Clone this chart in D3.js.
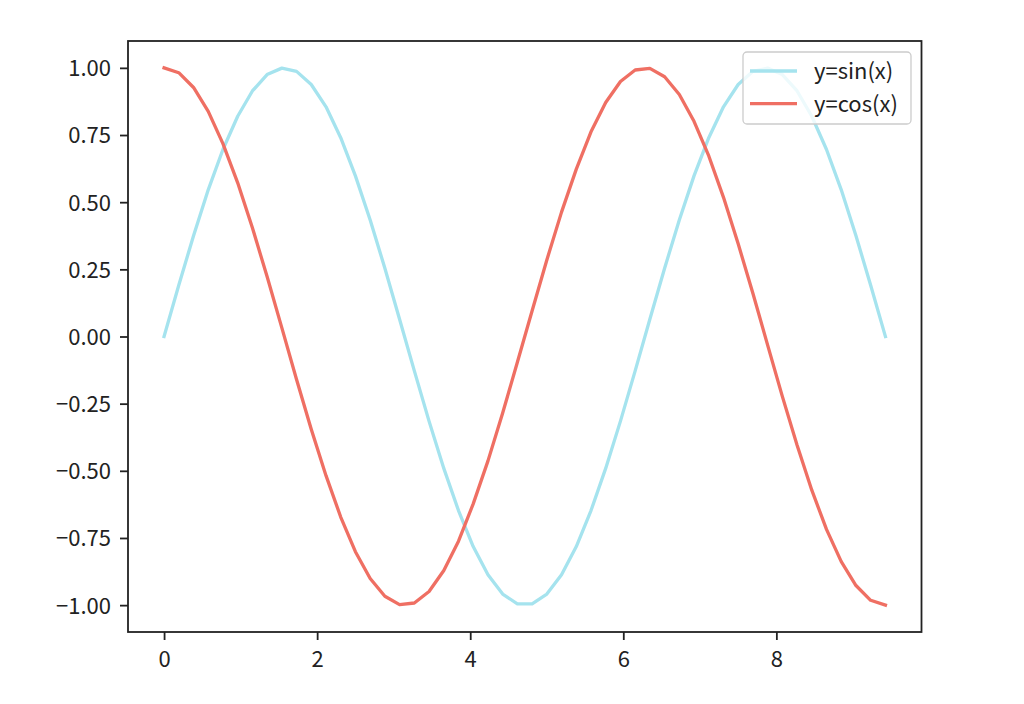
<!DOCTYPE html>
<html>
<head>
<meta charset="utf-8">
<script src="https://cdn.jsdelivr.net/npm/d3@7/dist/d3.min.js"></script>
<style>
html, body { margin: 0; padding: 0; background: #fff; }
svg { display: block; }
text { font-family: "Noto Sans CJK JP", "Noto Sans", sans-serif; }
</style>
</head>
<body>
<svg id="chart" width="1024" height="704"></svg>
<script>
const xValues = [0, 0.192, 0.385, 0.577, 0.769, 0.962, 1.154, 1.346, 1.539, 1.731, 1.923, 2.116, 2.308, 2.500, 2.693, 2.885, 3.077, 3.270, 3.462, 3.655, 3.847, 4.039, 4.232, 4.424, 4.616, 4.809, 5.001, 5.193, 5.386, 5.578, 5.770, 5.963, 6.155, 6.347, 6.540, 6.732, 6.924, 7.117, 7.309, 7.501, 7.694, 7.886, 8.078, 8.271, 8.463, 8.655, 8.848, 9.040, 9.232, 9.425];
const sinValues = [0, 0.191, 0.375, 0.546, 0.696, 0.820, 0.914, 0.975, 0.999, 0.987, 0.938, 0.855, 0.740, 0.598, 0.434, 0.254, 0.064, -0.128, -0.315, -0.491, -0.648, -0.782, -0.887, -0.959, -0.995, -0.995, -0.959, -0.887, -0.782, -0.648, -0.491, -0.315, -0.128, 0.064, 0.254, 0.434, 0.598, 0.740, 0.855, 0.938, 0.987, 0.999, 0.975, 0.914, 0.820, 0.696, 0.546, 0.375, 0.191, 0];
const cosValues = [1, 0.982, 0.927, 0.838, 0.718, 0.572, 0.405, 0.223, 0.032, -0.160, -0.345, -0.518, -0.672, -0.801, -0.901, -0.967, -0.998, -0.992, -0.949, -0.871, -0.762, -0.623, -0.463, -0.285, -0.096, 0.096, 0.285, 0.463, 0.623, 0.762, 0.871, 0.949, 0.992, 0.998, 0.967, 0.901, 0.801, 0.672, 0.518, 0.345, 0.160, -0.032, -0.223, -0.405, -0.572, -0.718, -0.838, -0.927, -0.982, -1];
const seriesNames = ["y=sin(x)", "y=cos(x)"];
const seriesColors = ["#a5e3ee", "#ef6f63"];
const xTicks = [0, 2, 4, 6, 8];
const yTicks = [-1.00, -0.75, -0.50, -0.25, 0.00, 0.25, 0.50, 0.75, 1.00];

(function () {
const svg = d3.select("#chart");
const mLeft = 128, mRight = 921.5, mTop = 41, mBottom = 632;
const fontSize = "22px";

const xMin = d3.min(xValues), xMax = d3.max(xValues);
const xPad = (xMax - xMin) * 0.05;
const x = d3.scaleLinear().domain([xMin - xPad, xMax + xPad]).range([mLeft, mRight]);
const yAll = sinValues.concat(cosValues);
const yMin = d3.min(yAll), yMax = d3.max(yAll);
const yPad = (yMax - yMin) * 0.05;
const y = d3.scaleLinear().domain([yMin - yPad, yMax + yPad]).range([mBottom, mTop]);

const series = [sinValues, cosValues].map((vals, k) => ({
  name: seriesNames[k], color: seriesColors[k],
  points: xValues.map((xv, i) => [xv, vals[i]])
}));

const line = d3.line().x(d => x(d[0])).y(d => y(d[1]));

svg.append("g").selectAll("path").data(series).enter().append("path")
  .attr("d", d => line(d.points))
  .attr("fill", "none")
  .attr("stroke", d => d.color)
  .attr("stroke-width", 3.3)
  .attr("stroke-linejoin", "round")
  .attr("stroke-linecap", "square");

const fmt = d3.format(".2f");
const xAxis = svg.append("g").attr("transform", `translate(0,${mBottom})`)
  .call(d3.axisBottom(x).tickValues(xTicks).tickFormat(d3.format("d")).tickSize(8).tickPadding(7));
const yAxis = svg.append("g").attr("transform", `translate(${mLeft},0)`)
  .call(d3.axisLeft(y).tickValues(yTicks).tickFormat(fmt).tickSize(8).tickPadding(9));
[xAxis, yAxis].forEach(g => {
  g.select(".domain").remove();
  g.selectAll(".tick line").attr("stroke", "#222").attr("stroke-width", 1.8);
  g.selectAll(".tick text").attr("fill", "#222").style("font-size", fontSize)
   .style("font-family", '"Noto Sans CJK JP", "Noto Sans", sans-serif');
});
yAxis.selectAll(".tick text").attr("dy", "0.36em");
xAxis.selectAll(".tick text").attr("dy", "0.92em");

svg.append("rect")
  .attr("x", mLeft).attr("y", mTop)
  .attr("width", mRight - mLeft).attr("height", mBottom - mTop)
  .attr("fill", "none").attr("stroke", "#222").attr("stroke-width", 1.8);

const lg = svg.append("g");
lg.append("rect")
  .attr("x", 743).attr("y", 52).attr("width", 168).attr("height", 72)
  .attr("rx", 4).attr("ry", 4)
  .attr("fill", "rgba(255,255,255,0.8)").attr("stroke", "#cccccc").attr("stroke-width", 1.3);
const items = lg.selectAll("g.item").data(series).enter().append("g")
  .attr("transform", (d, i) => `translate(0,${71 + i * 32.6})`);
items.append("line").attr("x1", 750).attr("x2", 797).attr("y1", 0).attr("y2", 0)
  .attr("stroke", d => d.color).attr("stroke-width", 3.3);
items.append("text").attr("x", 814).attr("y", 0).attr("dy", "0.36em")
  .attr("fill", "#222").style("font-size", fontSize).text(d => d.name);
})();
</script>
</body>
</html>
